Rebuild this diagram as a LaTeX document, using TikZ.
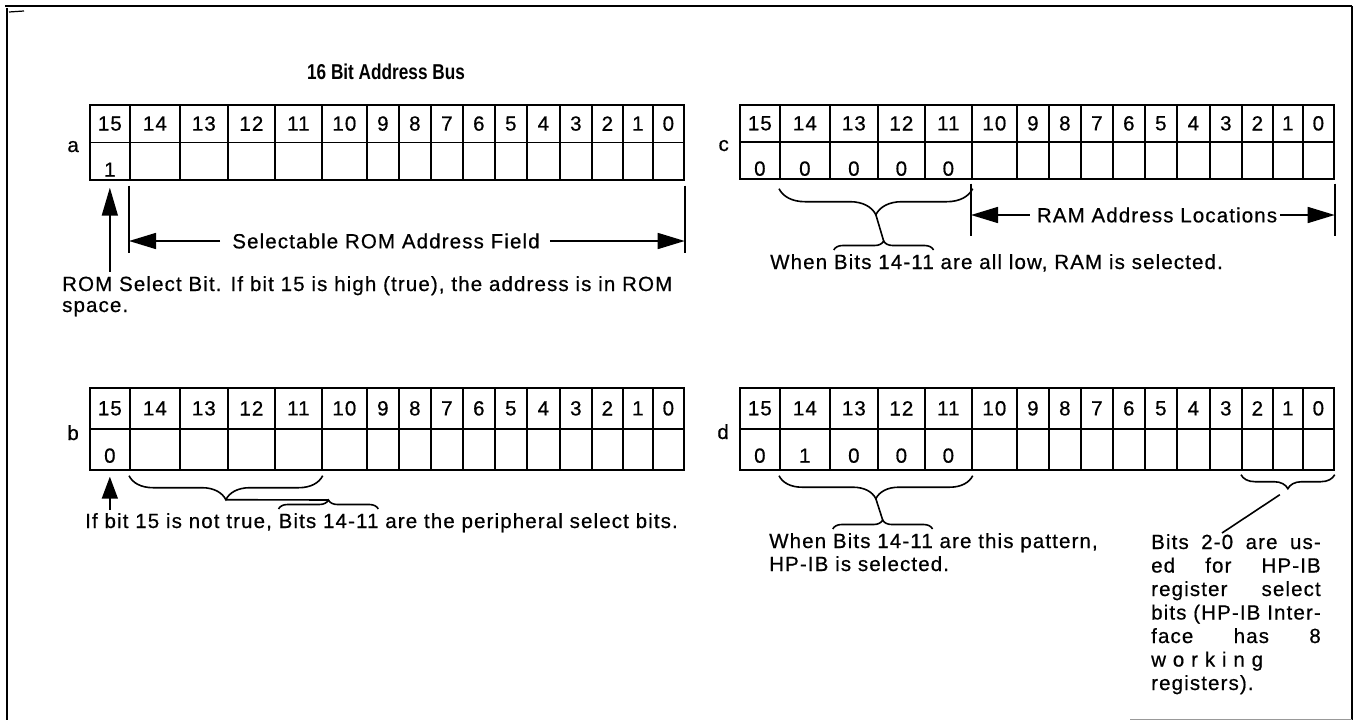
\documentclass[tikz,border=0pt]{standalone}
\usepackage{fontspec}
\setmainfont{Liberation Sans}
\newfontfamily\bodyfont{Liberation Sans}[LetterSpace=5.5,FakeBold=0.6]
\newfontfamily\titlefont{Liberation Sans}[FakeStretch=0.8]
\usetikzlibrary{decorations.pathreplacing,arrows.meta,calc}
\newcommand\mytxt{\bodyfont\fontsize{20.5}{23.5}\selectfont}
\newlength\colw
\newlength\lenA
\newlength\lenB
\newlength\lenC
\newcommand\bittable[4]{%
  \foreach \bn/\lo/\hi in {15/0/40,14/40/90,13/90/138,12/138/185,11/185/232,10/232/277,9/277/309,8/309/341,7/341/373,6/373/405,5/405/437,4/437/470,3/470/502,2/502/533,1/533/563,0/563/594}{%
    \pgfmathsetmacro\cw{\hi-\lo}%
    \node[cell, minimum width=\cw pt, minimum height=#4pt] (#1h\bn) at (#2+\lo,#3) {\bn};%
    \node[cell, minimum width=\cw pt, minimum height=#4pt] (#1v\bn) at (#2+\lo,#3+#4) {};%
  }}
\begin{document}
\settowidth\colw{\mytxt bits (HP-IB Inter-}%
\settowidth\lenA{\mytxt When }%
\settowidth\lenB{\mytxt Bits 14-11}%
\settowidth\lenC{\mytxt If bit 15 is not true, }%
\begin{tikzpicture}[x=1pt,y=-1pt,
  every node/.style={inner sep=0pt, font=\mytxt},
  cell/.style={draw, line width=1.7pt, anchor=north west},
  txt/.style={anchor=base west},
  frame/.style={line width=1.8pt},
  conn/.style={line width=1.6pt},
  bar/.style={line width=1.6pt},
  bigbrace/.style={decorate, decoration={brace, mirror, amplitude=#1}, line width=1.6pt},
  bigbrace/.default=24pt,
  smallbrace/.style={decorate, decoration={brace, amplitude=9pt}, line width=1.6pt},
  dimarrow/.style={line width=1.6pt, -{Triangle[length=27pt,width=16pt]}},
  romarrow/.style={line width=1.6pt, -{Triangle[length=28pt,width=16pt]}},
  barrow/.style={line width=1.6pt, -{Triangle[length=22pt,width=16pt]}},
]
\useasboundingbox (0,0) rectangle (1359,725);

% frame
\draw[frame] (5,6) -- (1352,6);
\draw[frame] (7,8) -- (7,720);
\draw[frame] (1352,6) -- (1352,720);
\draw[line width=1pt, draw=black!40] (1130,719) -- (1352,719);
\draw[line width=1.2pt] (9,12) -- (24,11);

% title
\node[font=\titlefont\bfseries\fontsize{21.5}{23}\selectfont] (title) at (386,72) {16 Bit Address Bus};

% tables
\bittable{a}{89}{104}{37.5}
\bittable{c}{739}{104}{37}
\bittable{b}{89}{387}{41}
\bittable{d}{739}{387}{41}

% row labels
\node[anchor=base east] (la) at (79,152) {a};
\node[anchor=base east] (lc) at (729,151) {c};
\node[anchor=base east] (lb) at (79,440) {b};
\node[anchor=base east] (ld) at (729,439) {d};

% values
\node[anchor=base] (aval15) at ([yshift=4pt]av15.south) {1};
\foreach \bn in {15,14,13,12,11}
  \node[anchor=base] (cval\bn) at ([yshift=4pt]cv\bn.south) {0};
\node[anchor=base] (bval15) at ([yshift=8pt]bv15.south) {0};
\foreach \bn/\vv in {15/0,14/1,13/0,12/0,11/0}
  \node[anchor=base] (dval\bn) at ([yshift=8pt]dv\bn.south) {\vv};

% ---- a: ROM field
\coordinate (selL) at ($(av14.south west)+(0,-5pt)$);
\coordinate (selR) at ($(av0.south east)+(0,-5pt)$);
\draw[bar] (selL) -- ++(0,67);
\draw[bar] (selR) -- ++(0,67);
\node (seltxt) at (386,241) {Selectable ROM Address Field};
\draw[dimarrow] ([xshift=-12pt]seltxt.west) -- (seltxt.west -| selL);
\draw[dimarrow] ([xshift=10pt]seltxt.east) -- (seltxt.east -| selR);
\node[txt] (rom1) at (62,291) {ROM Select Bit. If bit 15 is high (true), the address is in ROM};
\node[txt] (rom2) at (62,312) {space.};
\draw[romarrow] ([yshift=4pt]rom1.north -| av15.south) -- ([yshift=-7pt]av15.south);

% ---- c: RAM
\coordinate (ramL) at ($(cv10.south west)+(0,-4pt)$);
\coordinate (ramR) at ($(cv0.south east)+(0,-4pt)$);
\draw[bar] (ramL) -- ++(0,52);
\draw[bar] (ramR) -- ++(0,52);
\node (ramtxt) at (1157,215) {RAM Address Locations};
\draw[dimarrow] ([xshift=-7pt]ramtxt.west) -- (ramtxt.west -| ramL);
\draw[dimarrow] ([xshift=3pt]ramtxt.east) -- (ramtxt.east -| ramR);
\draw[bigbrace=26pt] ($(cv14.south west)+(0,-9pt)$) -- ($(cv11.south east)+(0,-9pt)$);
\coordinate (ctip) at ($($(cv14.south west)!0.5!(cv11.south east)$)+(0,-35pt)$);
\node[txt] (ctxt) at (770,269) {When Bits 14-11 are all low, RAM is selected.};
\draw[smallbrace] ($(ctxt.base west)+(\lenA,19pt)$) -- ($(ctxt.base west)+(\lenA+\lenB,19pt)$);
\coordinate (cstip) at ($(ctxt.base west)+(\lenA+0.5*\lenB,28pt)$);
\draw[conn] (ctip) -- (cstip);

% ---- b: peripheral select
\node[txt] (btxt) at (85,528) {If bit 15 is not true, Bits 14-11 are the peripheral select bits.};
\draw[barrow] ([yshift=3pt]btxt.north -| bv15.south) -- ([yshift=-6pt]bv15.south);
\draw[bigbrace=24pt] ($(bv14.south west)+(0,-5pt)$) -- ($(bv11.south east)+(0,-5pt)$);
\coordinate (btip) at ($($(bv14.south west)!0.5!(bv11.south east)$)+(0,-29pt)$);
\draw[smallbrace] ($(btxt.base west)+(\lenC,19pt)$) -- ($(btxt.base west)+(\lenC+\lenB,19pt)$);
\coordinate (bstip) at ($(btxt.base west)+(\lenC+0.5*\lenB,28pt)$);
\draw[conn] (btip) -- (bstip);

% ---- d: HP-IB
\draw[bigbrace=23pt] ($(dv14.south west)+(0,-5pt)$) -- ($(dv11.south east)+(0,-5pt)$);
\coordinate (dtip) at ($($(dv14.south west)!0.5!(dv11.south east)$)+(0,-28pt)$);
\node[txt] (dtxt1) at (769,548) {When Bits 14-11 are this pattern,};
\node[txt] (dtxt2) at (769,571) {HP-IB is selected.};
\draw[smallbrace] ($(dtxt1.base west)+(\lenA,19pt)$) -- ($(dtxt1.base west)+(\lenA+\lenB,19pt)$);
\coordinate (dstip) at ($(dtxt1.base west)+(\lenA+0.5*\lenB,28pt)$);
\draw[conn] (dtip) -- (dstip);

\draw[bigbrace=14pt] ($(dv2.south west)+(0,-4pt)$) -- ($(dv0.south east)+(0,-4pt)$);
\coordinate (d2tip) at ($($(dv2.south west)!0.5!(dv0.south east)$)+(0,-18pt)$);
\node[txt] (coltxt) at (1151,549) {\parbox[t]{\colw}{%
\makebox[\colw][s]{Bits 2-0 are us-}\\
\makebox[\colw][s]{ed for HP-IB}\\
\makebox[\colw][s]{register select}\\
\makebox[\colw][s]{bits (HP-IB Inter-}\\
\makebox[\colw][s]{face has 8}\\
\makebox[0.66\colw][s]{w\hfill o\hfill r\hfill k\hfill i\hfill n\hfill g}\\
registers).}};
\coordinate (slashend) at (1222,533);
\draw[conn] ([shift={(-8pt,-6pt)}]d2tip) -- (slashend);
\end{tikzpicture}
\end{document}
